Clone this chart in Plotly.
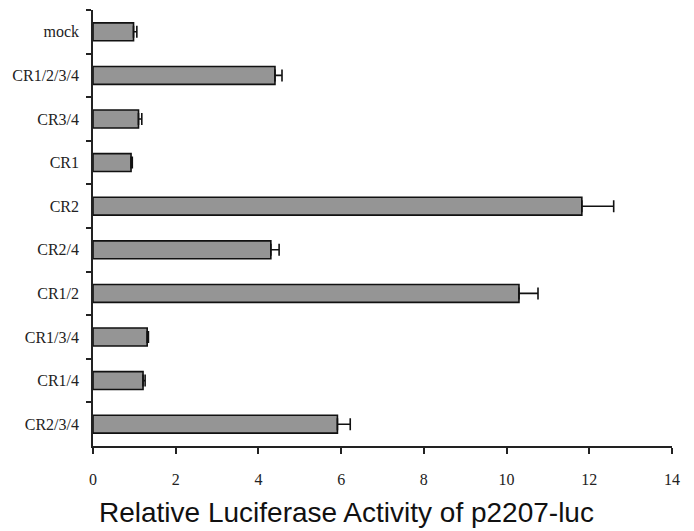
import plotly.graph_objects as go

categories = ["mock", "CR1/2/3/4", "CR3/4", "CR1", "CR2", "CR2/4", "CR1/2", "CR1/3/4", "CR1/4", "CR2/3/4"]
values = [0.98, 4.40, 1.10, 0.92, 11.82, 4.30, 10.30, 1.31, 1.21, 5.91]
errors = [0.08, 0.17, 0.08, 0.03, 0.77, 0.20, 0.46, 0.03, 0.05, 0.31]
x_ticks = [0, 2, 4, 6, 8, 10, 12, 14]

# page body has an 8px default margin, so the figure is placed at (8, 8)
OFF = 8
W, H = 694 - OFF, 531 - OFF
ml, mr, mt, mb = 93 - OFF, 22, 10 - OFF, 85

fig = go.Figure()
fig.add_trace(go.Bar(
    y=categories, x=values, orientation="h",
    width=0.41,
    marker=dict(color="#959595", line=dict(color="#111111", width=1.6)),
    error_x=dict(type="data", array=errors, arrayminus=[0] * len(errors),
                 symmetric=False, color="#111111", thickness=1.6, width=6),
    showlegend=False,
))

fig.update_layout(
    width=W, height=H,
    margin=dict(l=ml, r=mr, t=mt, b=mb),
    paper_bgcolor="white", plot_bgcolor="white",
    font=dict(family="Liberation Serif, Times New Roman, serif", size=16, color="#222222"),
)
fig.update_xaxes(
    range=[0, 14], tickvals=x_ticks, ticktext=[str(t) for t in x_ticks],
    showgrid=False, zeroline=False,
    showline=True, linecolor="#222222", linewidth=1.6,
    ticks="outside", ticklen=6, tickwidth=1.6, tickcolor="#222222",
    ticklabelstandoff=12,
    tickfont=dict(family="Liberation Serif, Times New Roman, serif", size=16, color="#222222"),
)
fig.update_yaxes(
    categoryorder="array", categoryarray=categories, autorange="reversed",
    showgrid=False, zeroline=False,
    showline=True, linecolor="#222222", linewidth=1.6,
    ticks="outside", ticklen=5, tickwidth=1.6, tickcolor="#222222",
    tickson="boundaries", ticklabelstandoff=9,
    tickfont=dict(family="Liberation Serif, Times New Roman, serif", size=16, color="#222222"),
)

plot_w = W - ml - mr
plot_h = H - mt - mb
fig.add_annotation(
    text="Relative Luciferase Activity of p2207-luc",
    xref="paper", yref="paper",
    x=(97 - 93) / plot_w, xanchor="left",
    y=-(512 - 446) / plot_h, yanchor="middle",
    showarrow=False,
    font=dict(family="Liberation Sans, Arial, sans-serif", size=28, color="#111111"),
)

fig.write_html("out.html")
